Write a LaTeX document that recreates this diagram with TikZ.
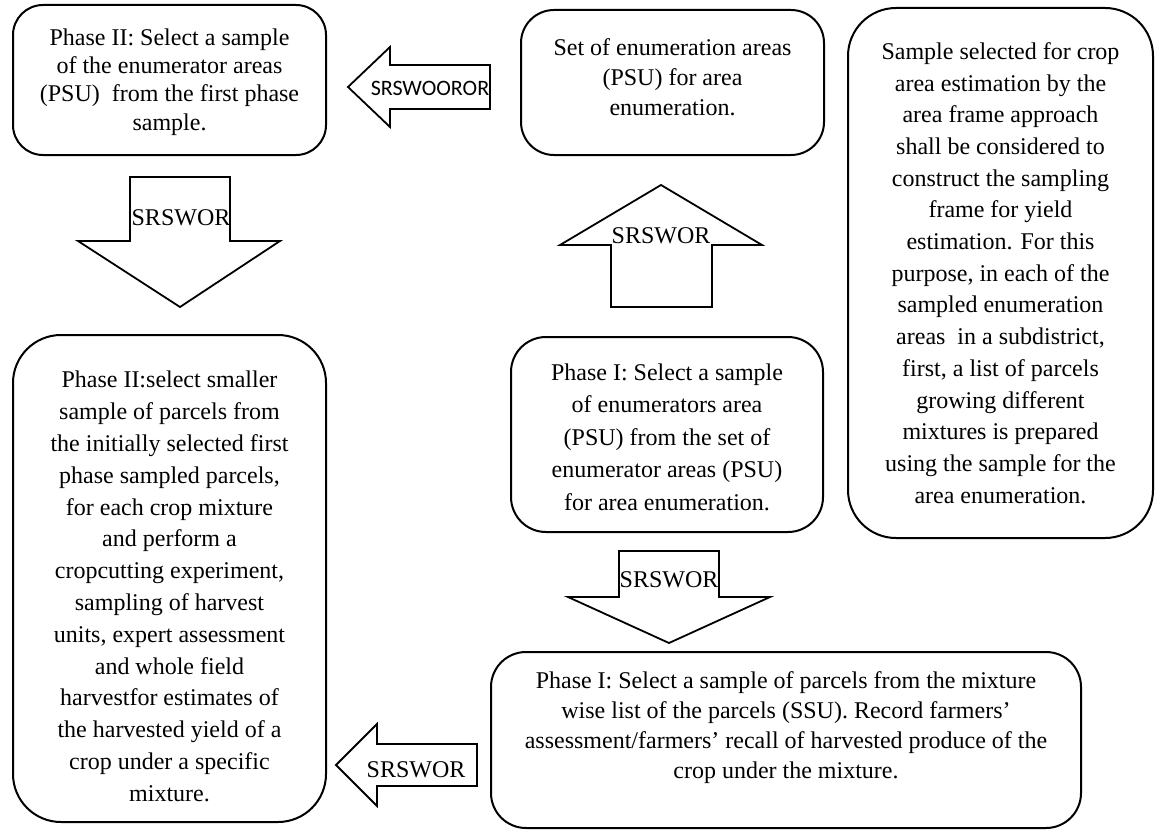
\documentclass[tikz,border=0pt]{standalone}
\usepackage{fontspec}
\setmainfont{Liberation Serif}
\newfontfamily\calibrifont{Carlito}
\begin{document}
\begin{tikzpicture}[x=1pt,y=-1pt,
  box/.style={draw, line width=2pt, rounded corners=#1, inner sep=0pt, outer sep=0pt},
  box/.default=30pt,
  txt/.style={align=center, inner sep=0pt, font=\fontsize{24}{#1}\selectfont},
  blockarrow/.style={draw, line width=1.8pt, line join=miter},
  albl/.style={inner sep=0pt, font=\fontsize{24}{28}\selectfont}
]
\useasboundingbox (0,0) rectangle (1156,832);

% boxes
\node[box=30pt, minimum width=313pt, minimum height=150pt] (tl) at (169.5,80) {};
\node[box=33pt, minimum width=303pt, minimum height=145pt] (mt) at (672.5,82.5) {};
\node[box=48pt, minimum width=305pt, minimum height=530pt] (rb) at (1000.5,273) {};
\node[box=35pt, minimum width=312pt, minimum height=195pt] (p1) at (667,434.5) {};
\node[box=48pt, minimum width=313pt, minimum height=487pt] (bl) at (169.5,578.5) {};
\node[box=35pt, minimum width=590pt, minimum height=176pt] (br) at (786,740) {};

% texts
\node[txt=28.3] (tlT) at (169.5,82) {Phase II: Select a sample\\of the enumerator areas\\(PSU)\ \ from the first phase\\sample.};
\node[txt=30] (mtT) at (672.5,77) {Set of enumeration areas\\(PSU) for area\\enumeration.};
\node[txt=31.7] (rbT) at (1000.5,273) {Sample selected for crop\\area estimation by the\\area frame approach\\shall be considered to\\construct the sampling\\frame for yield\\estimation. For this\\purpose, in each of the\\sampled enumeration\\areas\ \ in a subdistrict,\\first, a list of parcels\\growing different\\mixtures is prepared\\using the sample for the\\area enumeration.};
\node[txt=32.5] (p1T) at (667,437) {Phase I: Select a sample\\of enumerators area\\(PSU) from the set of\\enumerator areas (PSU)\\for area enumeration.};
\node[txt=31.8] (blT) at (169.5,586.5) {Phase II:select smaller\\sample of parcels from\\the initially selected first\\phase sampled parcels,\\for each crop mixture\\and perform a\\cropcutting experiment,\\sampling of harvest\\units, expert assessment\\and whole field\\harvestfor estimates of\\the harvested yield of a\\crop under a specific\\mixture.};
\node[txt=30] (brT) at (786,728) {Phase I: Select a sample of parcels from the mixture\\wise list of the parcels (SSU). Record farmers’\\assessment/farmers’ recall of harvested produce of the\\crop under the mixture.};

% block arrows
\draw[blockarrow] (490,65) -- (390,65) -- (390,47) -- (348,87) -- (390,127) -- (390,109) -- (490,109) -- cycle;
\node[inner sep=0pt, font=\calibrifont\fontsize{22}{26}\selectfont] (a0) at (430,88) {SRSWOOROR};

\draw[blockarrow] (130,177) -- (230,177) -- (230,241) -- (280,241) -- (180,307) -- (78,241) -- (130,241) -- cycle;
\node[albl] (a1) at (181,218) {SRSWOR};

\draw[blockarrow] (611,307) -- (712,307) -- (712,245) -- (762,245) -- (661,185) -- (560,245) -- (611,245) -- cycle;
\node[albl] (a2) at (661,236) {SRSWOR};

\draw[blockarrow] (619,551) -- (719,551) -- (719,597) -- (770,597) -- (669,643) -- (568,597) -- (619,597) -- cycle;
\node[albl] (a3) at (669,580) {SRSWOR};

\draw[blockarrow] (477,744) -- (377,744) -- (377,724) -- (336,765) -- (377,806) -- (377,786) -- (477,786) -- cycle;
\node[albl] (a4) at (416,770) {SRSWOR};
\end{tikzpicture}
\end{document}
